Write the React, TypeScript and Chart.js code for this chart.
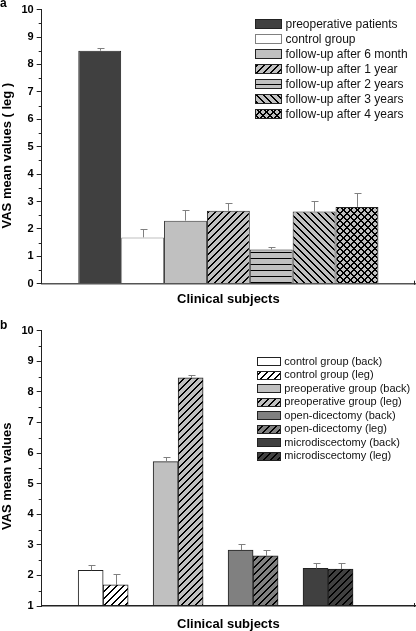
import React, { useEffect, useRef } from 'react';
import { Chart, registerables } from 'chart.js';

Chart.register(...registerables);

const FONT = '"Liberation Sans", Arial, Helvetica, sans-serif';

// ---------- Panel a data ----------
const aLabels = [
  'preoperative patients',
  'control group',
  'follow-up after 6 month',
  'follow-up after 1 year',
  'follow-up after 2 years',
  'follow-up after 3 years',
  'follow-up after 4 years',
];
const aMeans = [8.5, 1.69, 2.3, 2.66, 1.25, 2.63, 2.8];
const aErrors = [0.1, 0.3, 0.4, 0.29, 0.1, 0.39, 0.5];
const aFills = ['#404040', '#ffffff', '#c0c0c0', '#c0c0c0', '#c0c0c0', '#c0c0c0', '#c0c0c0'];
const aHatches = ['none', 'none', 'none', 'slash', 'horizontal', 'backslash', 'cross'];
const aBorders = ['#222222', '#808080', '#333333', '#222222', '#222222', '#222222', '#222222'];
const aYMin = 0;
const aYMax = 10;

// ---------- Panel b data ----------
const bGroups = ['control group', 'preoperative group', 'open-dicectomy', 'microdiscectomy'];
const bParts = ['back', 'leg'];
const bBack = [2.17, 5.72, 2.83, 2.23];
const bBackErr = [0.16, 0.15, 0.19, 0.17];
const bLeg = [1.69, 8.46, 2.64, 2.21];
const bLegErr = [0.35, 0.1, 0.18, 0.18];
const bFills = ['#ffffff', '#c0c0c0', '#808080', '#404040'];
const bYMin = 1;
const bYMax = 10;

const ERR_COLOR = '#808080';

function makeFill(fill: string, hatch: string): any {
  if (hatch === 'none') return fill;
  const s = hatch === 'horizontal' ? 6 : 7;
  const c = document.createElement('canvas');
  c.width = s;
  c.height = s;
  const g = c.getContext('2d') as CanvasRenderingContext2D;
  g.fillStyle = fill;
  g.fillRect(0, 0, s, s);
  g.fillStyle = '#000000';
  if (hatch === 'horizontal') g.fillRect(0, 0, s, 1);
  for (let i = 0; i < s; i++) {
    if (hatch === 'slash' || hatch === 'cross') {
      g.fillRect(i, s - 1 - i, 1, 1);
      g.fillRect((i + 1) % s, s - 1 - i, 1, 1);
    }
    if (hatch === 'backslash' || hatch === 'cross') {
      g.fillRect(i, i, 1, 1);
      g.fillRect((i + 1) % s, i, 1, 1);
    }
  }
  return g.createPattern(c, 'repeat');
}

type LegendItem = { label: string; fill: any; border: string };
type DecorCfg = {
  items: LegendItem[];
  x: number;
  y: number;
  rowH: number;
  boxW: number;
  boxH: number;
  gap: number;
  fontSize: number;
  letter: string;
  letterY: number;
  yTitle: string;
  yTitleX: number;
  yTitleShift: number;
};

function makeDecor(cfg: DecorCfg) {
  return {
    id: 'decor',
    afterDatasetsDraw(chart: any) {
      const ys = chart.scales.y;
      const ctx = chart.ctx as CanvasRenderingContext2D;
      ctx.save();
      ctx.strokeStyle = ERR_COLOR;
      ctx.lineWidth = 1;
      chart.data.datasets.forEach((ds: any, di: number) => {
        const meta = chart.getDatasetMeta(di);
        const errs = ds.errors as number[] | undefined;
        if (!errs) return;
        meta.data.forEach((bar: any, i: number) => {
          const raw = ds.data[i];
          if (raw === null || raw === undefined) return;
          const v = typeof raw === 'number' ? raw : raw.y;
          const top = Math.round(ys.getPixelForValue(v + errs[i])) + 0.5;
          const x = Math.round(bar.x) + 0.5;
          ctx.beginPath();
          ctx.moveTo(x, bar.y);
          ctx.lineTo(x, top);
          ctx.moveTo(x - 3, top);
          ctx.lineTo(x + 4, top);
          ctx.stroke();
        });
      });
      ctx.restore();
    },
    afterDraw(chart: any) {
      const ctx = chart.ctx as CanvasRenderingContext2D;
      const ys = chart.scales.y;
      const area = chart.chartArea;
      ctx.save();
      // minor ticks
      ctx.strokeStyle = '#222222';
      ctx.lineWidth = 1;
      ctx.beginPath();
      for (let v = ys.min + 0.5; v < ys.max; v += 1) {
        const py = Math.round(ys.getPixelForValue(v)) + 0.5;
        ctx.moveTo(area.left - 3, py);
        ctx.lineTo(area.left, py);
      }
      // small tick at right end of x axis
      const rx = Math.round(area.right) - 0.5;
      ctx.moveTo(rx, area.bottom - 3);
      ctx.lineTo(rx, area.bottom + 1);
      ctx.stroke();

      // legend
      ctx.font = `${cfg.fontSize}px ${FONT}`;
      ctx.textBaseline = 'middle';
      ctx.textAlign = 'left';
      cfg.items.forEach((it, i) => {
        const cy = cfg.y + i * cfg.rowH;
        const top = Math.round(cy - cfg.boxH / 2);
        const left = Math.round(cfg.x);
        const w = Math.round(cfg.boxW);
        const h = Math.round(cfg.boxH);
        ctx.fillStyle = it.fill;
        ctx.fillRect(left, top, w, h);
        ctx.strokeStyle = it.border;
        ctx.lineWidth = 1;
        ctx.strokeRect(left + 0.5, top + 0.5, w - 1, h - 1);
        ctx.fillStyle = '#111111';
        ctx.fillText(it.label, cfg.x + cfg.boxW + cfg.gap, cy);
      });

      // y-axis title (rotated)
      ctx.save();
      ctx.translate(cfg.yTitleX, (area.top + area.bottom) / 2 + cfg.yTitleShift);
      ctx.rotate(-Math.PI / 2);
      ctx.font = `bold 13px ${FONT}`;
      ctx.textAlign = 'center';
      ctx.textBaseline = 'middle';
      ctx.fillStyle = '#000000';
      ctx.fillText(cfg.yTitle, 0, 0);
      ctx.restore();

      // panel letter
      ctx.font = `bold 12px ${FONT}`;
      ctx.textBaseline = 'alphabetic';
      ctx.textAlign = 'left';
      ctx.fillStyle = '#000000';
      ctx.fillText(cfg.letter, 0, cfg.letterY);
      ctx.restore();
    },
  };
}

function yAxis(min: number, max: number, width: number) {
  return {
    type: 'linear',
    min,
    max,
    ticks: {
      stepSize: 1,
      padding: 3,
      color: '#000000',
      font: { family: FONT, size: 11, weight: 'bold' },
    },
    grid: { drawOnChartArea: false, drawTicks: true, tickLength: 5, tickColor: '#222222', tickWidth: 1 },
    border: { display: true, color: '#222222', width: 1, z: 1 },
    title: { display: false },
    afterFit: (s: any) => {
      s.width = width;
    },
  };
}

function App() {
  const refA = useRef<HTMLCanvasElement>(null);
  const refB = useRef<HTMLCanvasElement>(null);

  useEffect(() => {
    // ----- Panel a -----
    const aFillObjs = aFills.map((f, i) => makeFill(f, aHatches[i]));
    const chartA = new Chart(refA.current as HTMLCanvasElement, {
      type: 'bar',
      data: {
        labels: [''],
        datasets: aLabels.map((label, i) => ({
          label,
          data: [aMeans[i]],
          errors: [aErrors[i]],
          backgroundColor: aFillObjs[i],
          borderColor: aBorders[i],
          borderWidth: 1,
          categoryPercentage: 0.804,
          barPercentage: 1,
        })) as any,
      },
      options: {
        animation: false,
        responsive: false,
        maintainAspectRatio: false,
        layout: { padding: { left: 0, right: 1, top: 8, bottom: 0 } },
        plugins: { legend: { display: false }, tooltip: { enabled: false } },
        scales: {
          x: {
            type: 'category',
            grid: { display: false, drawTicks: false },
            border: { display: true, color: '#555555', width: 1.5, z: 1 },
            ticks: { display: false },
            title: {
              display: true,
              text: 'Clinical subjects',
              color: '#000000',
              font: { family: FONT, size: 13, weight: 'bold' },
              padding: { top: 0, bottom: 2.5 },
            },
            afterFit: (s: any) => {
              s.height = 26.3;
            },
          },
          y: yAxis(aYMin, aYMax, 41.7),
        } as any,
      },
      plugins: [
        makeDecor({
          items: aLabels.map((label, i) => ({ label, fill: aFillObjs[i], border: aBorders[i] === '#808080' ? '#808080' : '#222222' })),
          x: 255,
          y: 24.3,
          rowH: 15,
          boxW: 26.5,
          boxH: 10,
          gap: 4,
          fontSize: 12,
          letter: 'a',
          letterY: 6.5,
          yTitle: 'VAS mean values ( leg )',
          yTitleX: 7,
          yTitleShift: 9,
        }),
      ],
    } as any);

    // ----- Panel b -----
    const backFills = bFills.map((f) => makeFill(f, 'none'));
    const legFills = bFills.map((f) => makeFill(f, 'slash'));
    const bItems: LegendItem[] = [];
    bGroups.forEach((g, i) => {
      bParts.forEach((p) => {
        bItems.push({
          label: `${g} (${p})`,
          fill: p === 'back' ? backFills[i] : legFills[i],
          border: '#222222',
        });
      });
    });
    const chartB = new Chart(refB.current as HTMLCanvasElement, {
      type: 'bar',
      data: {
        datasets: [
          {
            label: 'back',
            data: bBack.map((v, i) => ({ x: i + 1, y: v })),
            errors: bBackErr,
            backgroundColor: backFills,
            borderColor: '#222222',
            borderWidth: 1,
            barThickness: 25,
            base: bYMin,
          },
          {
            label: 'leg',
            data: bLeg.map((v, i) => ({ x: i + 1, y: v })),
            errors: bLegErr,
            backgroundColor: legFills,
            borderColor: '#222222',
            borderWidth: 1,
            barThickness: 25,
            base: bYMin,
          },
        ] as any,
      },
      options: {
        animation: false,
        responsive: false,
        maintainAspectRatio: false,
        layout: { padding: { left: 0, right: 1, top: 20.7, bottom: 0 } },
        plugins: { legend: { display: false }, tooltip: { enabled: false } },
        scales: {
          x: {
            type: 'linear',
            min: 0.18,
            max: 5.16,
            offset: false,
            grid: { display: false, drawTicks: false },
            border: { display: true, color: '#222222', width: 1.5, z: 1 },
            ticks: { display: false },
            title: {
              display: true,
              text: 'Clinical subjects',
              color: '#000000',
              font: { family: FONT, size: 13, weight: 'bold' },
              padding: { top: 0, bottom: -1 },
            },
            afterFit: (s: any) => {
              s.height = 25;
            },
          },
          y: yAxis(bYMin, bYMax, 41.7),
        } as any,
      },
      plugins: [
        makeDecor({
          items: bItems,
          x: 256.7,
          y: 51.5,
          rowH: 13.55,
          boxW: 24.3,
          boxH: 9,
          gap: 3.3,
          fontSize: 11,
          letter: 'b',
          letterY: 18.7,
          yTitle: 'VAS mean values',
          yTitleX: 7,
          yTitleShift: 8,
        }),
      ],
    } as any);

    return () => {
      chartA.destroy();
      chartB.destroy();
    };
  }, []);

  return (
    <div style={{ position: 'fixed', left: 0, top: 0, width: 416, height: 631, background: '#ffffff' }}>
      <canvas ref={refA} width={416} height={310} style={{ display: 'block', width: 416, height: 310 }} />
      <canvas ref={refB} width={416} height={321} style={{ display: 'block', width: 416, height: 321 }} />
    </div>
  );
}

export default App;
